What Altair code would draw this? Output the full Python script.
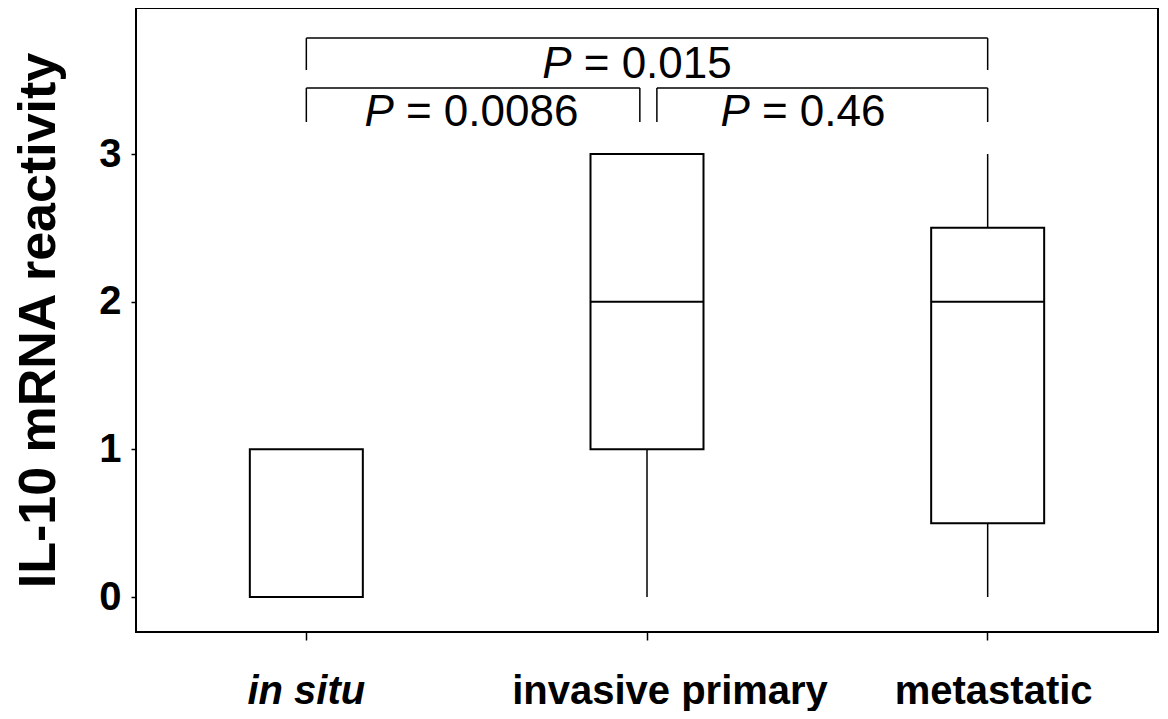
import altair as alt
import pandas as pd

# ---- data ----
categories = ["in situ", "invasive primary", "metastatic"]
mins = [0, 0, 0]
q1s = [0, 1, 0.5]
medians = [0, 2, 2]
q3s = [1, 3, 2.5]
maxs = [1, 3, 3]

y_ticks = [0, 1, 2, 3]

# comparison brackets (x in category-index units, centre of first category = 0.5)
bracket_x1 = [0.5, 0.5, 1.529]
bracket_x2 = [2.5, 1.479, 2.5]
bracket_y = [3.785, 3.447, 3.447]
bracket_y_end = [3.569, 3.217, 3.217]

# P-value labels
p_values = ["0.015", "0.0086", "0.46"]
p_x = [1.279, 0.757, 1.802]
p_y = [3.515, 3.19, 3.19]

FONT = "Liberation Sans"
Y_DOMAIN = [-0.237, 3.989]

box_df = pd.DataFrame({
    "category": categories, "min": mins, "q1": q1s,
    "median": medians, "q3": q3s, "max": maxs,
})

h_df = pd.DataFrame({"x1": bracket_x1, "x2": bracket_x2, "y": bracket_y})
v_df = pd.DataFrame({
    "x": bracket_x1 + bracket_x2,
    "y1": bracket_y + bracket_y,
    "y2": bracket_y_end + bracket_y_end,
})
p_df = pd.DataFrame({
    "x": p_x, "y": p_y,
    "p": ["P"] * len(p_values),
    "rest": ["= " + v for v in p_values],
})

y_axis = alt.Axis(
    values=y_ticks, format="d", grid=False, domain=False,
    tickSize=5, tickWidth=1.5, tickColor="black",
    labelFont=FONT, labelFontSize=40, labelFontWeight="bold",
    labelColor="black", labelPadding=10,
    title="IL-10 mRNA reactivity", titleFont=FONT, titleFontSize=52,
    titleFontWeight="bold", titleColor="black", titlePadding=33,
)
y_scale = alt.Scale(domain=Y_DOMAIN, nice=False, zero=False)

x_axis = alt.Axis(
    title=None, labelAngle=0, grid=False, domain=False,
    tickSize=8, tickWidth=1.5, tickColor="black",
    labelFont=FONT, labelFontSize=40, labelFontWeight="bold",
    labelColor="black", labelPadding=31, labelLimit=0,
    labelFontStyle={"condition": {"test": "datum.value === 'in situ'", "value": "italic"},
                    "value": "normal"},
    labelOffset={"condition": [
        {"test": "datum.value === 'invasive primary'", "value": 23},
        {"test": "datum.value === 'metastatic'", "value": 6},
    ], "value": 0},
)
x_enc = alt.X("category:N", sort=categories,
              scale=alt.Scale(paddingInner=0, paddingOuter=0), axis=x_axis)

base = alt.Chart(box_df)

lower_whisker = base.mark_rule(color="black", strokeWidth=1.5).encode(
    x=x_enc,
    y=alt.Y("min:Q", scale=y_scale, axis=y_axis),
    y2="q1:Q",
)
upper_whisker = base.mark_rule(color="black", strokeWidth=1.5).encode(
    x=x_enc,
    y=alt.Y("q3:Q", scale=y_scale, axis=y_axis),
    y2="max:Q",
)
boxes = base.mark_bar(size=113, fill="white", stroke="black", strokeWidth=2).encode(
    x=x_enc,
    y=alt.Y("q1:Q", scale=y_scale, axis=y_axis),
    y2="q3:Q",
)
med = base.mark_tick(size=113, thickness=2, color="black", opacity=1).encode(
    x=x_enc,
    y=alt.Y("median:Q", scale=y_scale, axis=y_axis),
)

ax_scale = alt.Scale(domain=[0, 3], nice=False, zero=False)

h_rules = alt.Chart(h_df).mark_rule(color="black", strokeWidth=1.5).encode(
    x=alt.X("x1:Q", scale=ax_scale, axis=None),
    x2="x2:Q",
    y=alt.Y("y:Q", scale=y_scale, axis=y_axis),
)
v_rules = alt.Chart(v_df).mark_rule(color="black", strokeWidth=1.5).encode(
    x=alt.X("x:Q", scale=ax_scale, axis=None),
    y=alt.Y("y1:Q", scale=y_scale, axis=y_axis),
    y2="y2:Q",
)
p_text = alt.Chart(p_df).mark_text(
    font=FONT, fontSize=44, fontStyle="italic", align="right",
    baseline="alphabetic", color="black",
).encode(
    x=alt.X("x:Q", scale=ax_scale, axis=None),
    y=alt.Y("y:Q", scale=y_scale, axis=y_axis),
    text="p:N",
)
rest_text = alt.Chart(p_df).mark_text(
    font=FONT, fontSize=44, align="left", baseline="alphabetic", color="black",
    dx=12,
).encode(
    x=alt.X("x:Q", scale=ax_scale, axis=None),
    y=alt.Y("y:Q", scale=y_scale, axis=y_axis),
    text="rest:N",
)

boxplot = alt.layer(lower_whisker, upper_whisker, boxes, med)
annot = alt.layer(h_rules, v_rules, p_text, rest_text)

chart = alt.layer(boxplot, annot).resolve_scale(x="independent").properties(
    width=1022, height=624,
    autosize=alt.AutoSizeParams(type="none"),
    padding={"left": 128, "top": 0, "right": 2, "bottom": 79},
).configure(background="white").configure_view(stroke="black", strokeWidth=2)

chart.save("out.html", embed_options={"renderer": "svg", "actions": False})
